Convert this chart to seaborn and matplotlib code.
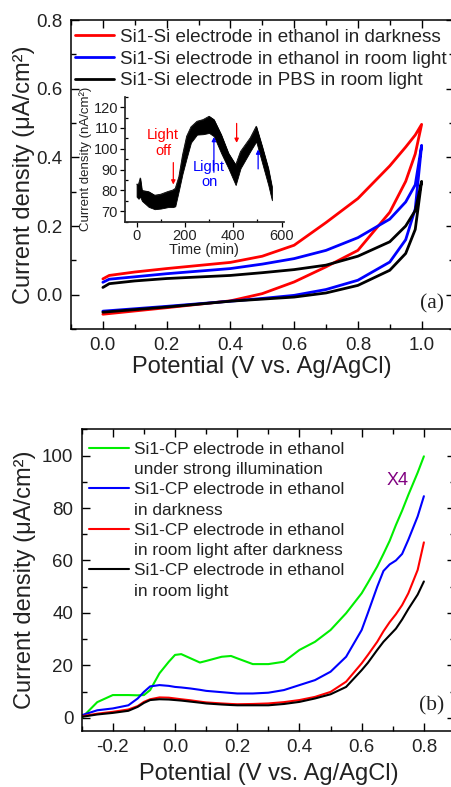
import numpy as np
import pandas as pd
import seaborn as sns
import matplotlib.pyplot as plt
from matplotlib.lines import Line2D
from matplotlib.ticker import MultipleLocator

# ---- panel (a): CV loops, forward (upper) and reverse (lower) branches ----
v_up = [0.0, 0.02, 0.1, 0.2, 0.4, 0.5, 0.6, 0.7, 0.8, 0.9, 0.95, 0.98, 1.0]
v_low = [1.0, 0.98, 0.95, 0.9, 0.8, 0.7, 0.6, 0.5, 0.4, 0.2, 0.0]

dark_up = [0.046, 0.056, 0.066, 0.076, 0.094, 0.112, 0.144, 0.21, 0.28, 0.375, 0.43, 0.465, 0.496]
dark_low = [0.496, 0.41, 0.33, 0.24, 0.129, 0.081, 0.037, 0.003, -0.018, -0.038, -0.057]

room_up = [0.036, 0.045, 0.052, 0.061, 0.076, 0.089, 0.105, 0.129, 0.166, 0.22, 0.27, 0.32, 0.435]
room_low = [0.435, 0.25, 0.16, 0.095, 0.042, 0.015, -0.002, -0.011, -0.019, -0.034, -0.048]

pbs_up = [0.021, 0.032, 0.04, 0.047, 0.056, 0.064, 0.073, 0.086, 0.112, 0.154, 0.2, 0.245, 0.33]
pbs_low = [0.33, 0.19, 0.12, 0.071, 0.027, 0.005, -0.007, -0.013, -0.019, -0.036, -0.051]

labels_a = ["Si1-Si electrode in ethanol in darkness",
            "Si1-Si electrode in ethanol in room light",
            "Si1-Si electrode in PBS in room light"]

# ---- inset: current density vs time, noisy band read as envelope ----
t_min = [0, 8, 15, 22, 50, 75, 100, 130, 150, 160, 175, 190, 207, 225, 250, 275,
         300, 320, 350, 380, 410, 430, 470, 495, 520, 545, 560]
band_hi = [83, 83, 86, 80, 79.4, 77.7, 78.2, 79.5, 80.2, 81, 86.6, 97, 106, 110.5, 113.2, 114,
           115.6, 114, 106.8, 97.9, 92.3, 98.7, 105.2, 110.8, 101, 90.6, 81.8]
band_lo = [77, 76, 77, 75, 72.1, 71, 71.3, 72, 72, 72.4, 80, 88, 95.5, 103, 106.8, 107,
           107.6, 106, 97.9, 90.6, 82.6, 90.6, 98.7, 103.5, 93, 82.6, 75.3]

# ---- panel (b): linear sweeps of Si1-CP electrode ----
v_b = [-0.3, -0.25, -0.2, -0.15, -0.12, -0.1, -0.08, -0.05, -0.02, 0.0, 0.02, 0.05, 0.08,
       0.1, 0.15, 0.18, 0.2, 0.25, 0.3, 0.35, 0.4, 0.45, 0.5, 0.55, 0.6, 0.62, 0.65, 0.67,
       0.69, 0.71, 0.73, 0.75, 0.78, 0.8]
green = [0.0, 6.0, 8.7, 8.7, 8.6, 8.7, 10.6, 17.0, 21.4, 24.0, 24.3, 22.7, 21.1,
         21.7, 23.3, 23.6, 22.7, 20.5, 20.5, 21.4, 25.9, 29.0, 33.5, 39.9, 47.5, 51.5, 57.7, 62.5,
         67.5, 73.5, 79.0, 85.0, 93.5, 99.7]
blue = [1.0, 2.9, 3.6, 4.8, 7.4, 9.9, 12.0, 12.5, 12.2, 11.8, 11.6, 11.2, 10.7,
        10.3, 9.8, 9.5, 9.3, 9.3, 9.6, 10.6, 12.5, 14.4, 17.6, 23.3, 33.5, 40.0, 50.0, 56.0,
        58.5, 60.0, 62.5, 67.9, 76.8, 84.5]
red = [0.6, 1.6, 2.3, 3.2, 4.5, 6.1, 7.1, 7.8, 7.7, 7.4, 7.1, 6.7, 6.2,
       5.9, 5.5, 5.3, 5.2, 5.3, 5.5, 6.0, 6.8, 8.0, 9.9, 13.8, 20.8, 24.0, 29.0, 33.0,
       36.5, 39.5, 43.0, 47.5, 56.4, 66.9]
black = [0.4, 1.3, 1.9, 2.7, 4.2, 5.7, 6.8, 7.1, 7.0, 6.8, 6.6, 6.2, 5.8,
         5.5, 5.1, 4.9, 4.8, 4.8, 4.8, 5.3, 6.1, 7.4, 9.0, 11.8, 18.2, 21.0, 25.9, 29.0,
         31.5, 34.0, 37.5, 41.5, 47.0, 52.0]

labels_b = [("Si1-CP electrode in ethanol", "under strong illumination"),
            ("Si1-CP electrode in ethanol", "in darkness"),
            ("Si1-CP electrode in ethanol", "in room light after darkness"),
            ("Si1-CP electrode in ethanol", "in room light")]

sns.set_theme(style="ticks")
plt.rcParams['font.family'] = ['Liberation Sans', 'DejaVu Sans']
plt.rcParams['text.color'] = '#222222'
plt.rcParams['axes.labelcolor'] = '#222222'
plt.rcParams['xtick.color'] = 'black'
plt.rcParams['ytick.color'] = 'black'
plt.rcParams['xtick.labelcolor'] = '#222222'
plt.rcParams['ytick.labelcolor'] = '#222222'

fig = plt.figure(figsize=(4.52, 7.87), dpi=100)
W, H = 452.0, 787.0


def px_axes(left, top, right, bottom):
    return fig.add_axes([left / W, 1 - bottom / H, (right - left) / W, (bottom - top) / H])


def style_main(ax):
    for side in ['left', 'bottom', 'top', 'right']:
        ax.spines[side].set_color('black')
        ax.spines[side].set_linewidth(1.1)
    ax.tick_params(which='both', direction='in', top=True, right=True, labelsize=13.5, pad=6)
    ax.tick_params(which='major', length=6, width=1)
    ax.tick_params(which='minor', length=3.5, width=1)


# ---- panel (a) ----
ax1 = px_axes(71, 20, 453.5, 329)
colors_a = ['#ff0000', '#0000ff', '#000000']
for col, lab, up, low in zip(colors_a, labels_a,
                             [dark_up, room_up, pbs_up], [dark_low, room_low, pbs_low]):
    df = pd.DataFrame({'V': v_up + v_low, 'J': up + low})
    sns.lineplot(data=df, x='V', y='J', sort=False, estimator=None, color=col, lw=2.0,
                 label=lab, ax=ax1)
ax1.set_xlim(-0.1, 1.1)
ax1.set_ylim(-0.1, 0.8)
ax1.xaxis.set_major_locator(MultipleLocator(0.2))
ax1.xaxis.set_minor_locator(MultipleLocator(0.1))
ax1.yaxis.set_major_locator(MultipleLocator(0.2))
ax1.yaxis.set_minor_locator(MultipleLocator(0.1))
ax1.xaxis.set_major_formatter(plt.FuncFormatter(lambda v, p: f"{v:.1f}"))
ax1.yaxis.set_major_formatter(plt.FuncFormatter(lambda v, p: f"{v:.1f}"))
style_main(ax1)
ax1.set_xlabel("Potential (V vs. Ag/AgCl)", fontsize=17, labelpad=1)
ax1.set_ylabel("Current density (μA/cm²)", fontsize=17, labelpad=1)
ax1.legend(loc='upper left', bbox_to_anchor=(0.01, 0.972), frameon=False, fontsize=13.6,
           handlelength=2.1, handletextpad=0.3, labelspacing=0.24, borderpad=0, borderaxespad=0)
ax1.text(0.975, 0.05, "(a)", transform=ax1.transAxes, ha='right', va='bottom',
         fontsize=15.5, family='Liberation Serif', color='#222222')

# ---- inset ----
axi = px_axes(125, 96.7, 283.5, 221.7)
axi.patch.set_alpha(0)
axi.fill_between(t_min, band_lo, band_hi, color='black', lw=0.6)
sns.lineplot(x=t_min, y=band_hi, color='black', lw=0.6, ax=axi)
axi.set_xlim(-48, 608)
axi.set_ylim(65, 125)
axi.xaxis.set_major_locator(MultipleLocator(200))
axi.xaxis.set_minor_locator(MultipleLocator(100))
axi.yaxis.set_major_locator(MultipleLocator(10))
axi.yaxis.set_minor_locator(MultipleLocator(5))
axi.set_yticks([70, 80, 90, 100, 110, 120])
axi.spines['top'].set_visible(False)
axi.spines['right'].set_visible(False)
axi.tick_params(which='major', direction='out', length=3.5, width=0.9, labelsize=10.5, pad=1.5)
axi.tick_params(which='minor', direction='in', length=2.5, width=0.9)
axi.set_xlabel("Time (min)", fontsize=10.5, labelpad=0)
axi.set_ylabel("Current density (nA/cm²)", fontsize=9.5, labelpad=1)
axi.annotate("", xy=(152, 81.5), xytext=(152, 94.7),
             arrowprops=dict(arrowstyle='-|>', color='#ff0000', lw=0.9, mutation_scale=6))
axi.annotate("", xy=(414, 101.5), xytext=(414, 113.5),
             arrowprops=dict(arrowstyle='-|>', color='#ff0000', lw=0.9, mutation_scale=6))
axi.annotate("", xy=(320, 107), xytext=(320, 87.4),
             arrowprops=dict(arrowstyle='-|>', color='#0000ff', lw=0.9, mutation_scale=6))
axi.annotate("", xy=(503, 101), xytext=(503, 89),
             arrowprops=dict(arrowstyle='-|>', color='#0000ff', lw=0.9, mutation_scale=6))
axi.text(110, 102.8, "Light\noff", color='#ff0000', fontsize=10.5, ha='center', va='center',
         linespacing=1.15)
axi.text(300, 87.6, "Light\non", color='#0000ff', fontsize=10.5, ha='center', va='center',
         linespacing=1.15)

# ---- panel (b) ----
ax2 = px_axes(81.7, 429.3, 455, 731)
colors_b = ['#00ee00', '#0000ff', '#ff0000', '#000000']
handles, labs = [], []
for col, (l1, l2), y in zip(colors_b, labels_b, [green, blue, red, black]):
    sns.lineplot(x=v_b, y=y, color=col, lw=1.5, ax=ax2)
    handles += [Line2D([], [], color=col, lw=1.5), Line2D([], [], color='none')]
    labs += [l1, l2]
ax2.set_xlim(-0.3, 0.9)
ax2.set_ylim(-5, 110)
ax2.xaxis.set_major_locator(MultipleLocator(0.2))
ax2.xaxis.set_minor_locator(MultipleLocator(0.1))
ax2.yaxis.set_major_locator(MultipleLocator(20))
ax2.yaxis.set_minor_locator(MultipleLocator(10))
ax2.xaxis.set_major_formatter(plt.FuncFormatter(lambda v, p: f"{v:.1f}"))
style_main(ax2)
ax2.set_xlabel("Potential (V vs. Ag/AgCl)", fontsize=17, labelpad=5)
ax2.set_ylabel("Current density (μA/cm²)", fontsize=17, labelpad=4)
ax2.legend(handles, labs, loc='upper left', bbox_to_anchor=(0.02, 0.958), frameon=False,
           fontsize=12.4, handlelength=2.3, handletextpad=0.3, labelspacing=0.3,
           borderpad=0, borderaxespad=0)
ax2.text(0.845, 0.83, "X4", transform=ax2.transAxes, color='#800080', fontsize=13,
         ha='center', va='center')
ax2.text(0.97, 0.05, "(b)", transform=ax2.transAxes, ha='right', va='bottom',
         fontsize=15.5, family='Liberation Serif', color='#222222')

fig.savefig("out.png", dpi=100)
